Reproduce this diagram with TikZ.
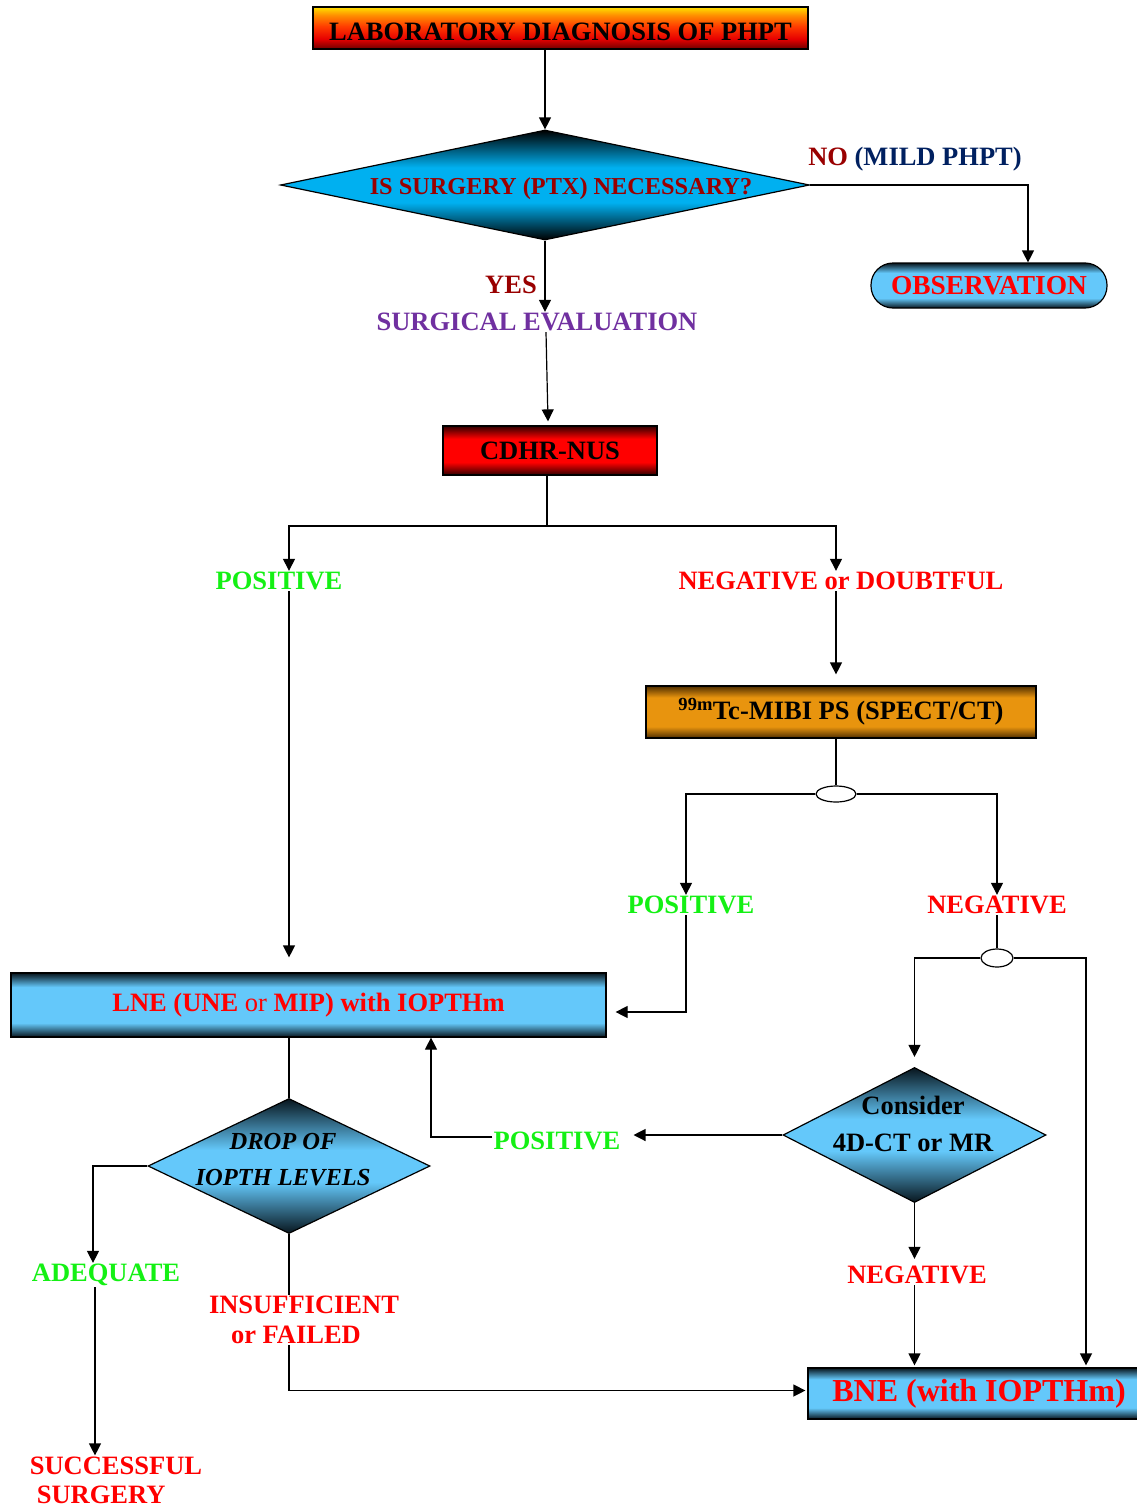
\documentclass[tikz,border=0pt]{standalone}
\usepackage{fontspec}
\setmainfont{Liberation Serif}
\usetikzlibrary{shapes.geometric,arrows.meta,calc}
\definecolor{dred}{RGB}{153,0,0}
\definecolor{navy}{RGB}{0,32,96}
\definecolor{purp}{RGB}{112,48,160}
\definecolor{grn}{RGB}{20,240,20}
\definecolor{rd}{RGB}{255,0,0}
\definecolor{bdark}{RGB}{8,22,30}
\definecolor{blight}{RGB}{100,200,250}
\definecolor{cyn}{RGB}{0,176,240}
\definecolor{rdark}{RGB}{50,0,0}
\definecolor{rmid}{RGB}{255,0,0}
\definecolor{odark}{RGB}{80,46,0}
\definecolor{omid}{RGB}{232,148,14}
\definecolor{lbot}{RGB}{110,0,0}
\definecolor{lred}{RGB}{230,0,0}
\definecolor{lorg}{RGB}{255,60,0}
\definecolor{lorg2}{RGB}{255,140,0}
\definecolor{lyel}{RGB}{255,225,0}
\pgfdeclareverticalshading{bluebar}{100bp}{color(0bp)=(bdark); color(25bp)=(bdark); color(36bp)=(blight); color(64bp)=(blight); color(75bp)=(bdark); color(100bp)=(bdark)}
\pgfdeclareverticalshading{bluediam}{100bp}{color(0bp)=(bdark); color(25bp)=(bdark); color(44bp)=(blight); color(56bp)=(blight); color(75bp)=(bdark); color(100bp)=(bdark)}
\pgfdeclareverticalshading{cyandiam}{100bp}{color(0bp)=(black); color(25bp)=(black); color(42bp)=(cyn); color(58bp)=(cyn); color(75bp)=(black); color(100bp)=(black)}
\pgfdeclareverticalshading{redbar}{100bp}{color(0bp)=(rdark); color(25bp)=(rdark); color(38bp)=(rmid); color(62bp)=(rmid); color(75bp)=(rdark); color(100bp)=(rdark)}
\pgfdeclareverticalshading{orangebar}{100bp}{color(0bp)=(odark); color(25bp)=(odark); color(36bp)=(omid); color(64bp)=(omid); color(75bp)=(odark); color(100bp)=(odark)}
\pgfdeclareverticalshading{labshade}{100bp}{color(0bp)=(lbot); color(25bp)=(lbot); color(37bp)=(lred); color(52bp)=(lorg); color(65bp)=(lorg2); color(75bp)=(lyel); color(100bp)=(lyel)}
\tikzset{
  box/.style={draw=black, line width=1.2pt, inner sep=0pt, font=\bfseries\fontsize{26.5}{30}\selectfont},
  lbl/.style={font=\bfseries\fontsize{26.5}{30}\selectfont, inner sep=1pt, align=center},
  dia/.style={diamond, draw=black, line width=1.2pt, inner sep=0pt},
  oval/.style={ellipse, draw=black, line width=1.2pt, inner sep=0pt, fill=white},
  arr/.style={-{Triangle[length=12pt,width=12pt]}, line width=1.2pt},
  ln/.style={line width=1.2pt}
}
\begin{document}
\begin{tikzpicture}[x=1pt,y=-1pt]
\useasboundingbox (0,0) rectangle (1137,1507);
\clip (0,0) rectangle (1137,1507);
% nodes
\node[box, shading=labshade, minimum width=495pt, minimum height=42pt, text height=24pt, text depth=0pt] (lab) at (560.5,28) {LABORATORY DIAGNOSIS OF PHPT};
\node[dia, shading=cyandiam, minimum width=529pt, minimum height=110pt] (q1) at (545,185) {};
\node[lbl, text=dred, font=\bfseries\fontsize{24.3}{28}\selectfont] (q1t) at (561,189) {IS SURGERY (PTX) NECESSARY?};
\node[lbl, text=dred] (no) at (915,159) {NO \textcolor{navy}{(MILD PHPT)}};
\node[box, shading=bluebar, rounded corners=22pt, minimum width=236pt, minimum height=45pt, text=rd, font=\bfseries\fontsize{27.4}{30}\selectfont] (obs) at (989,285.5) {OBSERVATION};
\node[lbl, text=dred] (yes) at (511,285) {YES};
\node[lbl, text=purp] (seval) at (537,322) {SURGICAL EVALUATION};
\node[box, shading=redbar, minimum width=214pt, minimum height=49pt] (cdhr) at (550,450.5) {CDHR-NUS};
\coordinate (split1) at (547,526);
\node[lbl, text=grn] (pos1) at (279,581) {POSITIVE};
\node[lbl, text=rd] (neg1) at (841,581) {NEGATIVE or DOUBTFUL};
\node[box, shading=orangebar, minimum width=390pt, minimum height=52pt] (mibi) at (841,712) {\textsuperscript{99m}Tc-MIBI PS (SPECT/CT)};
\node[oval, minimum width=40pt, minimum height=16pt] (e1) at (836,794) {};
\node[lbl, text=grn] (pos2) at (691,905) {POSITIVE};
\node[lbl, text=rd] (neg2) at (997,905) {NEGATIVE};
\node[oval, minimum width=32pt, minimum height=18pt] (e2) at (997,958) {};
\node[box, shading=bluebar, minimum width=595pt, minimum height=64pt, text=rd] (lne) at (308.5,1005) {\raisebox{2pt}{LNE (UNE {\mdseries or} MIP) with IOPTHm}};
\node[dia, shading=bluediam, minimum width=282pt, minimum height=135pt] (drop) at (289,1166) {};
\node[lbl, font=\bfseries\itshape\fontsize{24.5}{36}\selectfont] (dropt) at (283,1160) {DROP OF\\IOPTH LEVELS};
\node[lbl, text=grn] (pos3) at (557,1141) {POSITIVE};
\node[dia, shading=bluediam, minimum width=263pt, minimum height=135pt] (cons) at (914.5,1135) {};
\node[lbl, font=\bfseries\fontsize{26.5}{37}\selectfont] (const) at (913,1124) {Consider\\4D-CT or MR};
\node[lbl, text=rd] (neg3) at (917,1275) {NEGATIVE};
\node[box, shading=bluebar, minimum width=342pt, minimum height=51pt, text=rd, font=\bfseries\fontsize{32}{36}\selectfont] (bne) at (979,1393.5) {BNE (with IOPTHm)};
\node[lbl, text=grn] (adq) at (106,1275) {ADEQUATE};
\node[lbl, text=rd, align=left, font=\bfseries\fontsize{26.5}{29}\selectfont] (succ) at (116,1480) {SUCCESSFUL\\\hspace{7pt}SURGERY};
\node[lbl, text=rd, align=left] (insuf) at (304,1320) {INSUFFICIENT\\\hspace{22pt}or FAILED};
% helper coordinates
\coordinate (obsin) at ($(obs.north)+(39,0)$);
\coordinate (sevout) at ($(seval.south)+(9,0)$);
\coordinate (cdhrin) at ($(cdhr.north)+(-2,-4)$);
\coordinate (adqout) at ($(adq.south)+(-11,0)$);
\coordinate (pos3out) at ($(pos3.west)+(0,-4)$);
% connectors
\draw[arr] (lab.south -| q1.north) -- (q1.north);
\draw[arr] (q1.east) -| (obsin);
\draw[arr] (q1.south) -- (q1.south |- seval.north);
\draw[arr] (sevout) -- (cdhrin);
\draw[ln] ($(cdhr.south)+(-3,0)$) -- (split1);
\draw[arr] (split1) -| ($(pos1.north)+(10,0)$);
\draw[arr] (split1) -| ($(neg1.north)+(-5,0)$);
\draw[arr, shorten >=15pt] (pos1.south -| drop.north) -- (lne.north -| drop.north);
\draw[arr, shorten >=11pt] (neg1.south -| e1.north) -- (mibi.north -| e1.north);
\draw[ln] (mibi.south -| e1.north) -- (e1.north);
\draw[arr] (e1.west) -| ($(pos2.north)+(-5,0)$);
\draw[arr] (e1.east) -| (neg2.north);
\draw[arr, shorten >=9pt] ($(pos2.south)+(-5,0)$) |- ($(lne.east)+(0,7)$);
\draw[ln] (neg2.south) -- (e2.north);
\draw[arr, shorten >=10pt] (e2.west) -| (cons.north);
\draw[arr, shorten >=2pt] (e2.east) -| ($(bne.north)+(107,0)$);
\draw[ln] (lne.south -| drop.north) -- (drop.north);
\draw[arr] (pos3out) -| ($(lne.south)+(122.5,0)$);
\draw[arr, shorten >=12pt] (cons.west) -- (cons.west -| pos3.east);
\draw[arr, shorten >=6pt] (cons.south) -- (cons.south |- neg3.north);
\draw[arr, shorten >=2pt] (neg3.south -| cons.south) -- (bne.north -| cons.south);
\draw[arr] (drop.west) -| ($(adq.north)+(-13,0)$);
\draw[arr] (adqout) -- (adqout |- succ.north);
\draw[ln] (drop.south) -- (drop.south |- insuf.north);
\draw[arr, shorten >=2pt] (insuf.south -| drop.south) |- ($(bne.west)+(0,-3)$);
\end{tikzpicture}
\end{document}
